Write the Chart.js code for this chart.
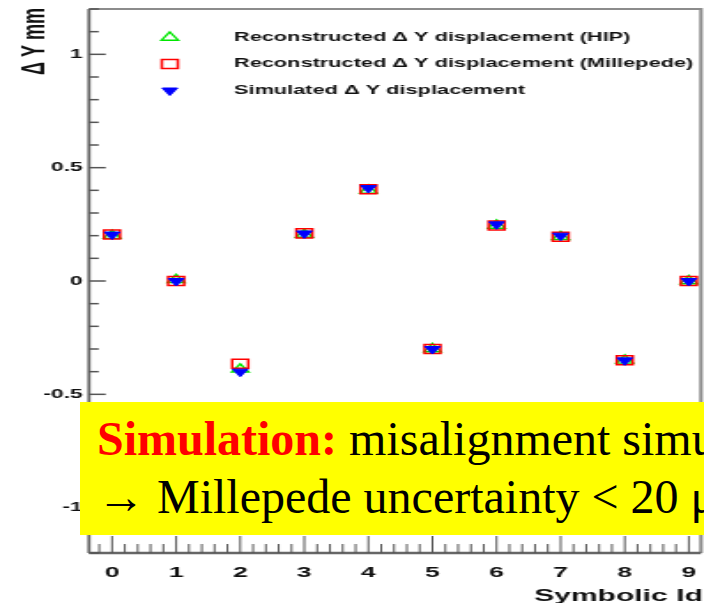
<!DOCTYPE html>
<html>
<head>
<meta charset="utf-8">
<title>Delta Y displacement per symbolic id</title>
<script src="https://cdn.jsdelivr.net/npm/chart.js@4/dist/chart.umd.min.js"></script>
<style>
  html, body { margin: 0; padding: 0; background: #fff; }
  #wrap { position: relative; width: 704px; height: 603px; overflow: hidden; }
  #plot { position: absolute; left: 0; top: 0; transform-origin: 0 0; }
  .note {
    position: absolute; left: 80px; top: 402px; width: 624px; height: 133px;
    background: #ffff00; overflow: hidden; white-space: nowrap;
    font-family: "Liberation Serif", "Times New Roman", serif; font-size: 48px; color: #000;
  }
  .note div { position: absolute; left: 17px; line-height: 48px; }
  .note .l1 { top: 13px; }
  .note .l2 { top: 71px; }
  .note b { color: #ff0000; }
</style>
</head>
<body>
<div id="wrap">
  <canvas id="plot"></canvas>
  <div class="note">
    <div class="l1"><b>Simulation:</b> misalignment simulated</div>
    <div class="l2">&rarr; Millepede uncertainty &lt; 20 &mu;m</div>
  </div>
</div>
<script>
// symbolic module ids and the Delta Y displacement (mm) for each
const symbolicIds = [0, 1, 2, 3, 4, 5, 6, 7, 8, 9];
const hipDeltaY = [0.20, 0.005, -0.39, 0.205, 0.40, -0.30, 0.245, 0.195, -0.35, 0.0];
const milleDeltaY = [0.205, 0.0, -0.365, 0.21, 0.405, -0.30, 0.245, 0.195, -0.35, 0.0];
const simDeltaY = [0.205, 0.0, -0.40, 0.21, 0.41, -0.30, 0.25, 0.20, -0.35, 0.0];

const seriesLabels = [
  'Reconstructed \u0394 Y displacement (HIP)',
  'Reconstructed \u0394 Y displacement (Millepede)',
  'Simulated \u0394 Y displacement'
];

const xTickValues = [0, 1, 2, 3, 4, 5, 6, 7, 8, 9];
const xTickLabels = ['0', '1', '2', '3', '4', '5', '6', '7', '8', '9'];
const yTickValues = [-1, -0.5, 0, 0.5, 1];
const yTickLabels = ['-1', '-0.5', '0', '0.5', '1'];

// the plot is rendered narrow and stretched sideways, like the wide ROOT canvas
const PLOT_W = 398;
const STRETCH = 704 / PLOT_W;
const BOLD = '"Liberation Sans", Arial, Helvetica, sans-serif';

const points = ys => symbolicIds.map((id, i) => ({ x: id, y: ys[i] }));

// ROOT style frame: inner ticks, bold labels, right aligned titles
const rootFrame = {
  id: 'rootFrame',
  beforeDatasetsDraw(chart) {
    const { ctx, chartArea: a, scales: { x, y } } = chart;
    ctx.save();

    ctx.strokeStyle = '#8c8c8c';
    ctx.lineWidth = 2;
    ctx.beginPath();
    ctx.moveTo(a.left, a.top); ctx.lineTo(a.right, a.top); ctx.lineTo(a.right, a.bottom);
    ctx.stroke();

    ctx.strokeStyle = '#666';
    ctx.lineWidth = 1.8;
    ctx.beginPath(); ctx.moveTo(a.left, a.top); ctx.lineTo(a.left, a.bottom); ctx.stroke();
    ctx.lineWidth = 2.4;
    ctx.beginPath(); ctx.moveTo(a.left, a.bottom); ctx.lineTo(a.right, a.bottom); ctx.stroke();

    // y ticks every 0.1, longer every 0.5
    ctx.strokeStyle = '#555';
    ctx.lineWidth = 1.5;
    for (let i = -12; i <= 12; i++) {
      const py = y.getPixelForValue(i / 10);
      const len = i % 5 === 0 ? 9.5 : 5.5;
      ctx.beginPath(); ctx.moveTo(a.left, py); ctx.lineTo(a.left + len, py); ctx.stroke();
    }
    // x ticks every 0.2, longer at each id
    ctx.lineWidth = 1;
    for (let i = -1; i <= 46; i++) {
      const v = i / 5;
      if (v < x.min || v > x.max) continue;
      const px = x.getPixelForValue(v);
      const len = i % 5 === 0 ? 17 : 9;
      ctx.beginPath(); ctx.moveTo(px, a.bottom); ctx.lineTo(px, a.bottom - len); ctx.stroke();
    }

    ctx.fillStyle = '#111';
    ctx.font = `bold 13px ${BOLD}`;
    ctx.textAlign = 'right';
    ctx.textBaseline = 'middle';
    yTickValues.forEach((v, i) => ctx.fillText(yTickLabels[i], a.left - 3.5, y.getPixelForValue(v)));

    ctx.font = `bold 15px ${BOLD}`;
    ctx.textAlign = 'center';
    xTickValues.forEach((v, i) => ctx.fillText(xTickLabels[i], x.getPixelForValue(v), a.bottom + 20));

    ctx.font = `bold 17px ${BOLD}`;
    ctx.textAlign = 'right';
    ctx.textBaseline = 'alphabetic';
    ctx.fillText('Symbolic Id', a.right + 1, a.bottom + 48);

    ctx.translate(20, a.top - 1);
    ctx.rotate(-Math.PI / 2);
    ctx.textBaseline = 'middle';
    ctx.font = `bold 18px ${BOLD}`;
    ctx.fillText('\u0394 Y mm', 0, 0);
    ctx.restore();
  },
  afterDatasetsDraw(chart) {
    const { ctx } = chart;
    const drawPoint = Chart.helpers && Chart.helpers.drawPoint;
    ctx.save();
    chart.data.datasets.forEach((ds, i) => {
      const ly = 37.5 + i * 26.5;
      ctx.fillStyle = ds.backgroundColor;
      ctx.strokeStyle = ds.borderColor;
      ctx.lineWidth = ds.borderWidth;
      if (drawPoint) {
        drawPoint(ctx, { pointStyle: ds.pointStyle, rotation: ds.rotation || 0, radius: ds.pointRadius, borderWidth: ds.borderWidth }, 96, ly);
      }
      ctx.fillStyle = '#111';
      ctx.font = `bold 12.3px ${BOLD}`;
      ctx.textAlign = 'left';
      ctx.textBaseline = 'middle';
      ctx.fillText(ds.label, 132.3, ly);
    });
    ctx.restore();
  }
};

const canvas = document.getElementById('plot');
canvas.width = PLOT_W;
canvas.height = 603;
canvas.style.width = PLOT_W + 'px';
canvas.style.height = '603px';
canvas.style.transform = `scaleX(${STRETCH})`;

new Chart(canvas.getContext('2d'), {
  type: 'scatter',
  data: {
    datasets: [
      {
        label: seriesLabels[0], data: points(hipDeltaY), order: 2,
        pointStyle: 'triangle', pointRadius: 5.5, borderWidth: 1.4,
        borderColor: 'rgb(0,230,0)', backgroundColor: 'rgba(0,0,0,0)'
      },
      {
        label: seriesLabels[1], data: points(milleDeltaY), order: 1,
        pointStyle: 'rect', pointRadius: 6.4, borderWidth: 1.5,
        borderColor: '#ff0000', backgroundColor: 'rgba(0,0,0,0)'
      },
      {
        label: seriesLabels[2], data: points(simDeltaY), order: 0,
        pointStyle: 'triangle', rotation: 180, pointRadius: 5, borderWidth: 1,
        borderColor: '#0000ff', backgroundColor: '#0000ff'
      }
    ]
  },
  plugins: [rootFrame],
  options: {
    responsive: false,
    animation: false,
    devicePixelRatio: 1,
    layout: { autoPadding: false, padding: { left: 50.3, right: 1.7, top: 9, bottom: 50 } },
    scales: {
      x: { type: 'linear', min: -0.36, max: 9.19, display: false },
      y: { type: 'linear', min: -1.2, max: 1.2, display: false }
    },
    plugins: { legend: { display: false }, tooltip: { enabled: false } }
  }
});
</script>
</body>
</html>
